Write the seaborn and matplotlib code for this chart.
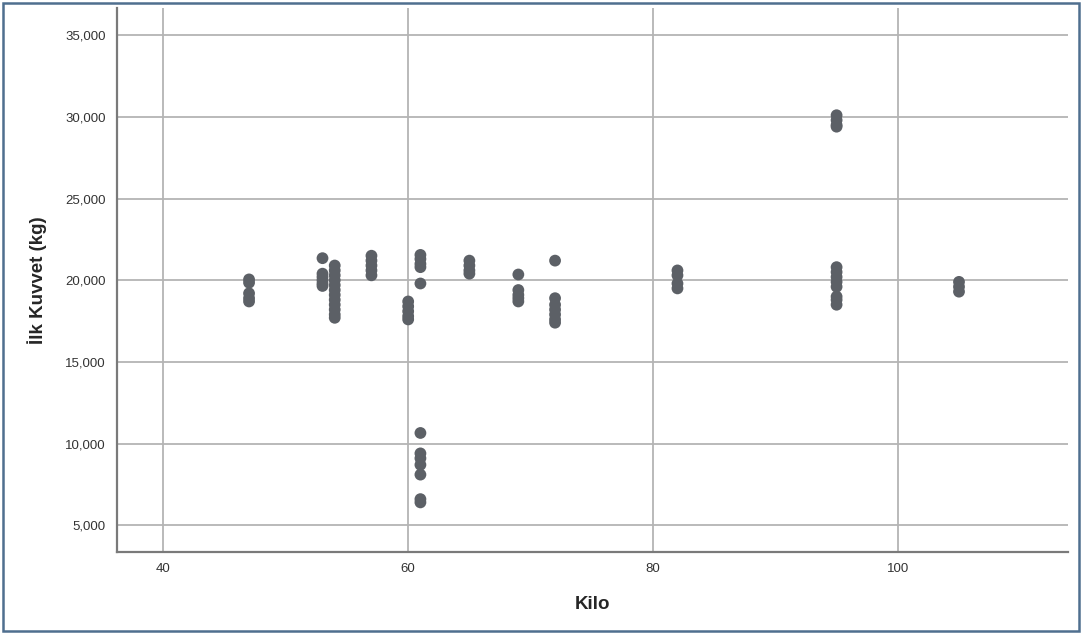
import numpy as np
import pandas as pd
import matplotlib
matplotlib.use("Agg")
import matplotlib.pyplot as plt
import seaborn as sns
from matplotlib.patches import Rectangle
from matplotlib.ticker import FuncFormatter

# values (Kilo vs first force)
kilo_47 = [20050, 19850, 19200, 18900, 18700]
kilo_53 = [21350, 20400, 20200, 20000, 19800, 19650]
kilo_54 = [20900, 20600, 20300, 20000, 19700, 19400, 19100, 18800, 18500, 18200, 17900, 17700]
kilo_57 = [21500, 21200, 20900, 20600, 20300]
kilo_60 = [18700, 18400, 18100, 17800, 17600]
kilo_61 = [21550, 21300, 21000, 20800, 19800, 10650, 9400, 9100, 8700, 8100, 6600, 6400]
kilo_65 = [21200, 20900, 20600, 20400]
kilo_69 = [20350, 19400, 19100, 18900, 18700]
kilo_72 = [21200, 18900, 18500, 18200, 17900, 17600, 17400]
kilo_82 = [20600, 20300, 19800, 19500]
kilo_95 = [30100, 29800, 29500, 29400, 20800, 20500, 20200, 19900, 19600, 19000, 18800, 18500]
kilo_105 = [19900, 19600, 19300]

groups = {47: kilo_47, 53: kilo_53, 54: kilo_54, 57: kilo_57, 60: kilo_60, 61: kilo_61,
          65: kilo_65, 69: kilo_69, 72: kilo_72, 82: kilo_82, 95: kilo_95, 105: kilo_105}

rows = []
for k, vals in groups.items():
    for v in vals:
        rows.append({"Kilo": k, "Kuvvet": v})
df = pd.DataFrame(rows)

x_ticks = [40, 60, 80, 100]
y_ticks = [5000, 10000, 15000, 20000, 25000, 30000, 35000]

sns.set_style("white")
plt.rcParams["font.family"] = ["Liberation Sans", "DejaVu Sans"]

fig = plt.figure(figsize=(10.82, 6.34), dpi=100)
ax = fig.add_axes([0.108, 0.129, 0.879, 0.858])

sns.scatterplot(data=df, x="Kilo", y="Kuvvet", ax=ax, s=72, color="#5c6066",
                edgecolor="none", zorder=3)

ax.set_xlim(36.2, 113.9)
ax.set_ylim(3350, 36650)
ax.set_xticks(x_ticks)
ax.set_yticks(y_ticks)
ax.yaxis.set_major_formatter(FuncFormatter(lambda v, p: f"{int(v):,}"))
ax.grid(True, color="#b4b4b4", linewidth=1.3, zorder=0)
ax.set_axisbelow(True)

for side in ["top", "right"]:
    ax.spines[side].set_visible(False)
for side in ["left", "bottom"]:
    ax.spines[side].set_color("#7a7a7a")
    ax.spines[side].set_linewidth(1.6)

ax.tick_params(axis="both", length=0, labelsize=9.5, colors="#333333", pad=8)
ax.set_xlabel("Kilo", fontsize=13.5, fontweight="bold", labelpad=15)
ax.set_ylabel("İlk Kuvvet (kg)", fontsize=13.5, fontweight="bold", labelpad=13)

# outer frame around the whole figure
fig.patches.append(Rectangle((0.003, 0.005), 0.994, 0.99, transform=fig.transFigure,
                             fill=False, edgecolor="#4f6f8f", linewidth=1.8))

fig.savefig("out.png", dpi=100)
